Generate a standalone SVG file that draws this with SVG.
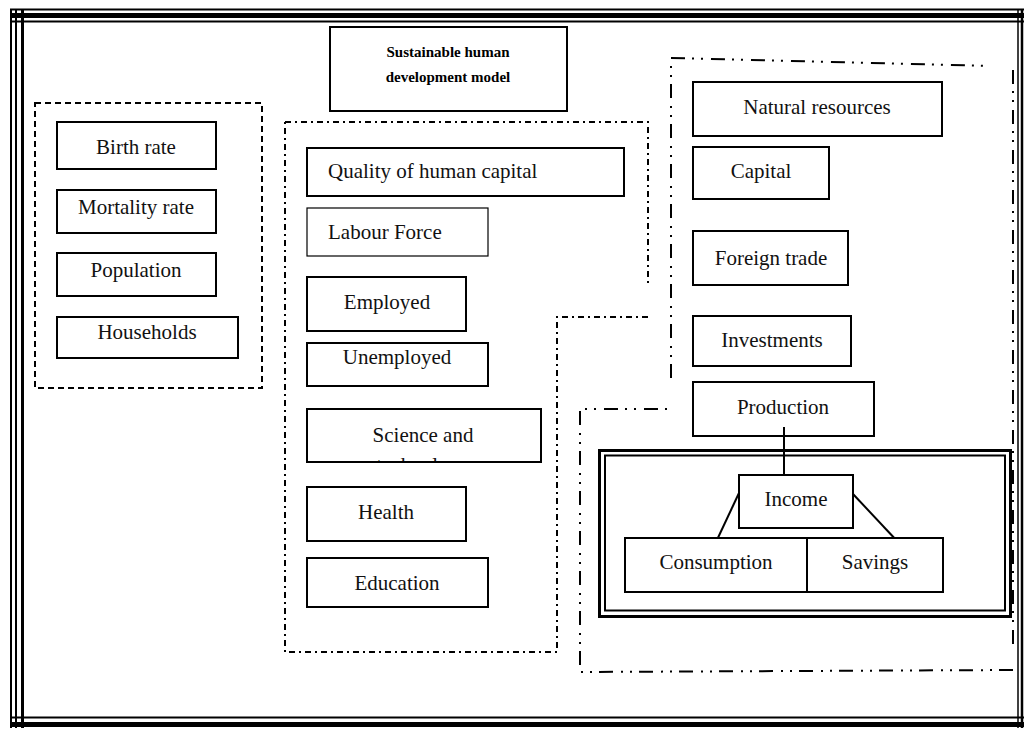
<svg xmlns="http://www.w3.org/2000/svg" width="1026" height="729" viewBox="0 0 1026 729">
<defs>
<style>
.box{fill:#fff;stroke:#000;stroke-width:2}
.thin{fill:#fff;stroke:#000;stroke-width:1.2}
.t{font-family:"Liberation Serif","Times New Roman",serif;font-size:21px;fill:#111}
.tb{font-family:"Liberation Serif","Times New Roman",serif;font-size:15px;font-weight:bold;fill:#000}
.dash{fill:none;stroke:#000;stroke-width:2;stroke-dasharray:6 4}
.dd{fill:none;stroke:#000;stroke-width:2;stroke-dasharray:6 4 2 4}
.ddd{fill:none;stroke:#000;stroke-width:2;stroke-dasharray:14 7 2 7 2 8}
.ln{fill:none;stroke:#000;stroke-width:2}
</style>
<clipPath id="clipSci"><rect x="308" y="410" width="232" height="51"/></clipPath>
</defs>
<rect width="1026" height="729" fill="#fff"/>
<g id="frame" fill="none" stroke="#000">
<line x1="10" y1="9.5" x2="1024" y2="9.5" stroke-width="2"/>
<line x1="10" y1="15.5" x2="1024" y2="15.5" stroke-width="5"/>
<line x1="10" y1="21.5" x2="1024" y2="21.5" stroke-width="2"/>
<line x1="11" y1="9" x2="11" y2="728" stroke-width="2"/>
<line x1="16" y1="9" x2="16" y2="728" stroke-width="2"/>
<line x1="22.5" y1="9" x2="22.5" y2="728" stroke-width="3"/>
<line x1="10" y1="717.5" x2="1024" y2="717.5" stroke-width="2"/>
<line x1="10" y1="724.5" x2="1024" y2="724.5" stroke-width="5"/>
<line x1="1018" y1="9" x2="1018" y2="728" stroke-width="1.5"/>
<line x1="1022" y1="9" x2="1022" y2="728" stroke-width="2.5"/>
</g>
<g id="groups">
<rect x="35" y="103" width="227" height="285" class="dash"/>
<path d="M285,122 H648 V287 M648,317 H557 V652 H285 V122" class="dd"/>
<path d="M671,378 V58 L990,66 M1013,70 V645 M1013,670 L580,672 V409 H672" class="ddd"/>
</g>
<g id="title">
<rect x="330" y="27" width="237" height="84" class="box"/>
<text x="448" y="57" text-anchor="middle" class="tb">Sustainable human</text>
<text x="448" y="82" text-anchor="middle" class="tb">development model</text>
</g>
<g id="birth-rate"><rect x="57" y="122" width="159" height="47" class="box"/><text x="136" y="154" text-anchor="middle" class="t">Birth rate</text></g>
<g id="mortality-rate"><rect x="57" y="190" width="159" height="43" class="box"/><text x="136" y="214" text-anchor="middle" class="t">Mortality rate</text></g>
<g id="population"><rect x="57" y="253" width="159" height="43" class="box"/><text x="136" y="277" text-anchor="middle" class="t">Population</text></g>
<g id="households"><rect x="57" y="317" width="181" height="41" class="box"/><text x="147" y="339" text-anchor="middle" class="t">Households</text></g>
<g id="quality"><rect x="307" y="148" width="317" height="48" class="box"/><text x="328" y="178" class="t">Quality of human capital</text></g>
<g id="labour-force"><rect x="307" y="208" width="181" height="48" class="thin"/><text x="328" y="239" class="t">Labour Force</text></g>
<g id="employed"><rect x="307" y="277" width="159" height="54" class="box"/><text x="387" y="309" text-anchor="middle" class="t">Employed</text></g>
<g id="unemployed"><rect x="307" y="343" width="181" height="43" class="box"/><text x="397" y="364" text-anchor="middle" class="t">Unemployed</text></g>
<g id="science"><rect x="307" y="409" width="234" height="53" class="box"/><text x="423" y="442" text-anchor="middle" class="t">Science and</text><text x="423" y="472" text-anchor="middle" class="t" clip-path="url(#clipSci)">technology</text></g>
<g id="health"><rect x="307" y="487" width="159" height="54" class="box"/><text x="386" y="519" text-anchor="middle" class="t">Health</text></g>
<g id="education"><rect x="307" y="558" width="181" height="49" class="box"/><text x="397" y="590" text-anchor="middle" class="t">Education</text></g>
<g id="natural-resources"><rect x="693" y="82" width="249" height="54" class="box"/><text x="817" y="114" text-anchor="middle" class="t">Natural resources</text></g>
<g id="capital"><rect x="693" y="147" width="136" height="52" class="box"/><text x="761" y="178" text-anchor="middle" class="t">Capital</text></g>
<g id="foreign-trade"><rect x="693" y="231" width="155" height="54" class="box"/><text x="771" y="265" text-anchor="middle" class="t">Foreign trade</text></g>
<g id="investments"><rect x="693" y="316" width="158" height="50" class="box"/><text x="772" y="347" text-anchor="middle" class="t">Investments</text></g>
<g id="income-area" fill="none" stroke="#000">
<rect x="599.5" y="450.5" width="411" height="166" stroke-width="3"/>
<rect x="605" y="455.5" width="400" height="155" stroke-width="2"/>
</g>
<g id="production"><rect x="693" y="382" width="181" height="54" class="box"/><text x="783" y="414" text-anchor="middle" class="t">Production</text></g>
<g id="connectors">
<line x1="784" y1="427" x2="784" y2="475" class="ln"/>
<line x1="739" y1="493" x2="716" y2="542" class="ln"/>
<line x1="853" y1="494" x2="898" y2="542" class="ln"/>
</g>
<g id="income"><rect x="739" y="475" width="114" height="53" class="box"/><text x="796" y="506" text-anchor="middle" class="t">Income</text></g>
<g id="consumption"><rect x="625" y="538" width="182" height="54" class="box"/><text x="716" y="569" text-anchor="middle" class="t">Consumption</text></g>
<g id="savings"><rect x="807" y="538" width="136" height="54" class="box"/><text x="875" y="569" text-anchor="middle" class="t">Savings</text></g>
</svg>
